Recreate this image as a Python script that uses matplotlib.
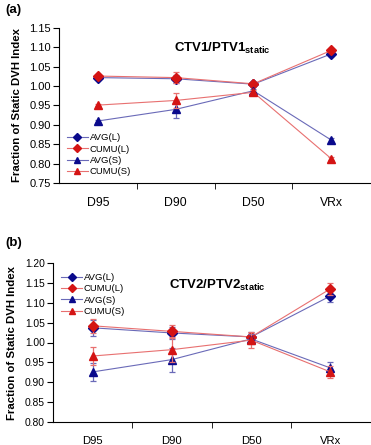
import numpy as np
import matplotlib.pyplot as plt

plt.rcParams['font.family'] = ['Liberation Sans', 'DejaVu Sans']
plt.rcParams['mathtext.fontset'] = 'custom'
plt.rcParams['mathtext.bf'] = 'Liberation Sans:bold'
plt.rcParams['mathtext.rm'] = 'Liberation Sans'

categories = ['D95', 'D90', 'D50', 'VRx']

# panel (a) CTV1/PTV1
a_avg_l = [1.022, 1.019, 1.005, 1.083]
a_avg_l_err = [0.004, 0.010, 0.004, 0.004]
a_cumu_l = [1.026, 1.022, 1.006, 1.092]
a_cumu_l_err = [0.004, 0.015, 0.004, 0.003]
a_avg_s = [0.910, 0.940, 0.988, 0.861]
a_avg_s_err = [0.003, 0.022, 0.005, 0.004]
a_cumu_s = [0.951, 0.963, 0.984, 0.813]
a_cumu_s_err = [0.003, 0.019, 0.005, 0.003]

# panel (b) CTV2/PTV2
b_avg_l = [1.037, 1.024, 1.014, 1.117]
b_avg_l_err = [0.020, 0.015, 0.012, 0.015]
b_cumu_l = [1.042, 1.028, 1.014, 1.135]
b_cumu_l_err = [0.017, 0.015, 0.010, 0.015]
b_avg_s = [0.926, 0.957, 1.009, 0.936]
b_avg_s_err = [0.022, 0.030, 0.012, 0.015]
b_cumu_s = [0.966, 0.982, 1.006, 0.926]
b_cumu_s_err = [0.023, 0.030, 0.020, 0.015]

BLUE = '#0a0a8c'
RED = '#d41414'
BLUE_LINE = '#6a6ab8'
RED_LINE = '#e87070'

fig = plt.figure(figsize=(3.71, 4.45), dpi=100)
ax_a = fig.add_axes([59 / 371, 1 - 183 / 445, 311 / 371, 155 / 445])
ax_b = fig.add_axes([53 / 371, 1 - 422 / 445, 317 / 371, 159 / 445])


def draw(ax, series, ylim, yticks, title, title_xy, legend_loc, legend_anchor,
         scale):
    x = np.arange(len(categories))
    styles = [('AVG(L)', 'D', BLUE, BLUE_LINE),
              ('CUMU(L)', 'D', RED, RED_LINE),
              ('AVG(S)', '^', BLUE, BLUE_LINE),
              ('CUMU(S)', '^', RED, RED_LINE)]
    for (label, mk, mc, lc), (vals, errs) in zip(styles, series):
        ax.errorbar(x, vals, yerr=errs, fmt='none', ecolor=lc, elinewidth=0.9,
                    capsize=2.5, capthick=0.9)
        ax.plot(x, vals, color=lc, lw=0.8, marker=mk,
                ms=5 if mk == 'D' else 5.5, mfc=mc, mec=mc, label=label)
    ax.set_xlim(-0.5, 3.5)
    ax.set_ylim(*ylim)
    ax.set_yticks(yticks)
    ax.set_yticklabels(['%.2f' % t for t in yticks], fontsize=8 * scale)
    ax.set_xticks(x)
    ax.set_xticklabels(categories, fontsize=8.8 * scale)
    ax.set_xticks([0.5, 1.5, 2.5], minor=True)
    ax.tick_params(axis='x', which='major', length=0, pad=10)
    ax.tick_params(axis='x', which='minor', length=4, direction='out')
    ax.tick_params(axis='y', length=4, direction='out', pad=2)
    ax.spines['top'].set_visible(False)
    ax.spines['right'].set_visible(False)
    ax.set_ylabel('Fraction of Static DVH Index', fontsize=8.2,
                  fontweight='bold')
    ax.text(title_xy[0], title_xy[1], title, transform=ax.transAxes,
            fontsize=9.5, fontweight='bold', ha='center', va='center')
    ax.legend(loc=legend_loc, bbox_to_anchor=legend_anchor, frameon=False,
              fontsize=6.8, handlelength=2.2, handletextpad=0.2,
              labelspacing=0.25, borderaxespad=0.0, borderpad=0.2,
              markerscale=0.75)


draw(ax_a,
     [(a_avg_l, a_avg_l_err), (a_cumu_l, a_cumu_l_err),
      (a_avg_s, a_avg_s_err), (a_cumu_s, a_cumu_s_err)],
     (0.75, 1.15), np.arange(0.75, 1.151, 0.05),
     r'CTV1/PTV1$_{\mathbf{static}}$', (0.524, 0.87),
     'lower left', (0.02, 0.03), 1.0)
draw(ax_b,
     [(b_avg_l, b_avg_l_err), (b_cumu_l, b_cumu_l_err),
      (b_avg_s, b_avg_s_err), (b_cumu_s, b_cumu_s_err)],
     (0.80, 1.20), np.arange(0.80, 1.201, 0.05),
     r'CTV2/PTV2$_{\mathbf{static}}$', (0.52, 0.86),
     'upper left', (0.02, 0.95), 0.92)

ax_a.yaxis.set_label_coords(-0.118, 0.5)
ax_b.yaxis.set_label_coords(-0.112, 0.5)

fig.text(0.015, 0.978, '(a)', fontsize=9.5, fontweight='bold', va='center')
fig.text(0.015, 0.455, '(b)', fontsize=9.5, fontweight='bold', va='center')

fig.savefig('out.png', dpi=100)
